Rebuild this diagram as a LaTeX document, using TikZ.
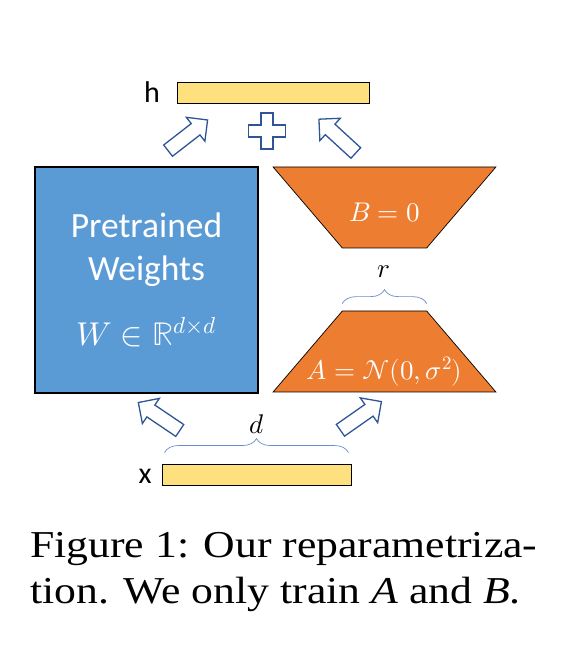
\documentclass[tikz,border=0pt]{standalone}
\usepackage{amsmath}
\usepackage{fontspec}
\usepackage{unicode-math}
\setmainfont{Liberation Serif}
\setmathfont{Latin Modern Math}
\newfontfamily\calib{Carlito}
\usetikzlibrary{shapes.geometric,shapes.arrows,decorations.pathreplacing,positioning}

\definecolor{wblue}{HTML}{5B9BD5}
\definecolor{lorange}{HTML}{ED7D31}
\definecolor{vecyellow}{HTML}{FFE07F}
\definecolor{arrblue}{HTML}{2F5597}
\definecolor{braceblue}{HTML}{6A8CCB}

\tikzset{
  vecbar/.style={draw=black, fill=vecyellow, line width=0.9pt, minimum height=21pt, inner sep=0pt},
  veclabel/.style={font=\calib\fontsize{30}{32}\selectfont},
  blockarrow/.style={single arrow, draw=arrblue, fill=white, line width=1.3pt, inner sep=6.5pt,
    single arrow head extend=8pt, minimum height=50pt, single arrow tip angle=90},
  lowrank/.style={trapezium, trapezium stretches=true, draw=black, fill=lorange, line width=0.7pt,
    minimum width=223pt, minimum height=81pt, trapezium angle=50.6, inner sep=2pt},
  dimbrace/.style={decorate, decoration={brace, amplitude=14pt}, draw=braceblue, line width=0.7pt},
  mathlbl/.style={font=\fontsize{27}{29}\selectfont},
  captxt/.style={font=\fontsize{38}{46}\selectfont, inner sep=0pt}
}

\begin{document}
\begin{tikzpicture}[x=1pt, y=1pt]
  \useasboundingbox (0,0) rectangle (578,659);

  % input and output vectors
  \node[vecbar, minimum width=192pt] (hbar) at (273,566.5) {};
  \node[veclabel] (hlbl) at (152,567) {h};
  \node[vecbar, minimum width=189pt] (xbar) at (256.5,184.5) {};
  \node[veclabel] (xlbl) at (145,183) {x};

  % frozen weights
  \node[draw=black, fill=wblue, line width=1.2pt, minimum width=223pt, minimum height=226pt,
    text=white, align=center, font=\calib\fontsize{35.5}{43}\selectfont] (W) at (146.5,379)
    {Pretrained\\Weights\\[22pt]{\fontsize{33}{36}\selectfont$W \in \mathbb{R}^{d\times d}$}};

  % low-rank update
  \node[lowrank, shape border rotate=180] (B) at (384.5,451.5) {};
  \node[mathlbl, text=white] (btxt) at ([yshift=-5pt]B.center) {$B = 0$};
  \node[lowrank] (A) at (384.5,307.5) {};
  \node[mathlbl, text=white] (atxt) at ([yshift=21pt]A.south) {$A = \mathcal{N}(0,\sigma^2)$};

  % dimensions
  \draw[dimbrace] ([yshift=7pt]A.top left corner) -- ([yshift=7pt]A.top right corner);
  \node[mathlbl] (rlbl) at (384,387) {$r$};
  \draw[dimbrace] ([shift={(3pt,11pt)}]xbar.north west) -- ([shift={(-3pt,11pt)}]xbar.north east);
  \node[mathlbl] (dlbl) at (257,235) {$d$};

  % flow arrows
  \node[blockarrow, rotate=146] (inW) at (162,240.5) {};
  \node[blockarrow, rotate=35] (inA) at (358,241) {};
  \node[blockarrow, rotate=37.8] (outW) at (185,521.5) {};
  \node[blockarrow, rotate=137.5] (outB) at (340,520.5) {};

  % sum
  \coordinate (plus) at (267,528);
  \draw[draw=arrblue, fill=white, line width=1.3pt] ([shift={(-6,18)}]plus) -- ++(12,0) -- ++(0,-12)
    -- ++(12.5,0) -- ++(0,-12) -- ++(-12.5,0) -- ++(0,-12) -- ++(-12,0) -- ++(0,12)
    -- ++(-12.5,0) -- ++(0,12) -- ++(12.5,0) -- cycle;

  % caption
  \node[captxt, anchor=base west] (cap1) at (30,101) {\scalebox{1.15}[1]{Figure 1: Our reparametriza-}};
  \node[captxt, anchor=base west] (cap2) at (30,55) {\scalebox{1.15}[1]{tion. We only train \textit{A} and \textit{B}.}};
\end{tikzpicture}
\end{document}
